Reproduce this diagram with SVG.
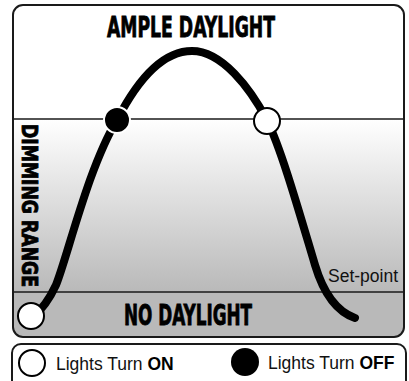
<svg xmlns="http://www.w3.org/2000/svg" width="409" height="381" viewBox="0 0 409 381">
<style>
.frame{fill:none;stroke:#1a1a1a;stroke-width:2}
.div{stroke:#1a1a1a;stroke-width:1.5}
.head{font-family:"DejaVu Sans","Liberation Sans",sans-serif;font-weight:bold;fill:#000;stroke:#000;stroke-width:0.9}
.lbl{font-family:"Liberation Sans",Arial,sans-serif;font-size:17.5px;fill:#111}
.curve{fill:none;stroke:#000;stroke-width:8;stroke-linecap:round}
.on{fill:#fff;stroke:#000;stroke-width:2}
.off{fill:#000;stroke:#fff;stroke-width:2}
</style>
<defs>
<linearGradient id="dim" x1="0" y1="0" x2="0" y2="1">
<stop offset="0" stop-color="#ffffff"/>
<stop offset="1" stop-color="#b9b9b9"/>
</linearGradient>
<clipPath id="boxclip"><rect x="13" y="5" width="391" height="332" rx="10"/></clipPath>
</defs>
<rect width="409" height="381" fill="#fff"/>
<g id="chart">
<g clip-path="url(#boxclip)">
<rect x="13" y="5" width="391" height="114" fill="#fff"/>
<rect x="13" y="119" width="391" height="173" fill="url(#dim)"/>
<rect x="13" y="292" width="391" height="45" fill="#b9b9b9"/>
</g>
<line class="div" x1="13" y1="119" x2="404" y2="119"/>
<line class="div" x1="13" y1="292" x2="404" y2="292"/>
<rect class="frame" x="13" y="5" width="391" height="332" rx="10"/>
</g>
<g id="labels">
<text class="head" x="191" y="37" font-size="28" text-anchor="middle" textLength="168" lengthAdjust="spacingAndGlyphs">AMPLE DAYLIGHT</text>
<text class="head" x="188" y="325" font-size="28" text-anchor="middle" textLength="128" lengthAdjust="spacingAndGlyphs">NO DAYLIGHT</text>
<text class="head" transform="translate(22,124) rotate(90)" x="0" y="0" font-size="21" textLength="163" lengthAdjust="spacingAndGlyphs">DIMMING RANGE</text>
<text class="lbl" x="328" y="282">Set-point</text>
</g>
<g id="connectors">
<path class="curve" d="M 32 318 C 44 308 50 298 56 285 C 64 265 74 225 90 180 C 98 158 106 138 117 120 C 135 85 160 51 192 51 C 222 51 250 88 267 120 C 282 151 300 215 315 265 C 324 295 338 312 355 318"/>
</g>
<g id="node-off-point"><circle class="off" cx="117" cy="120" r="13"/></g>
<g id="node-on-point"><circle class="on" cx="267" cy="121" r="13"/></g>
<g id="node-start"><circle class="on" cx="31" cy="316" r="13"/></g>
<g id="legend">
<rect class="frame" x="12" y="344" width="394" height="50" rx="9"/>
<circle class="on" cx="32" cy="363" r="13"/>
<text class="lbl" x="56" y="370">Lights Turn <tspan font-weight="bold" fill="#000">ON</tspan></text>
<circle fill="#000" cx="245" cy="362" r="14"/>
<text class="lbl" x="268" y="369">Lights Turn <tspan font-weight="bold" fill="#000">OFF</tspan></text>
</g>
</svg>
